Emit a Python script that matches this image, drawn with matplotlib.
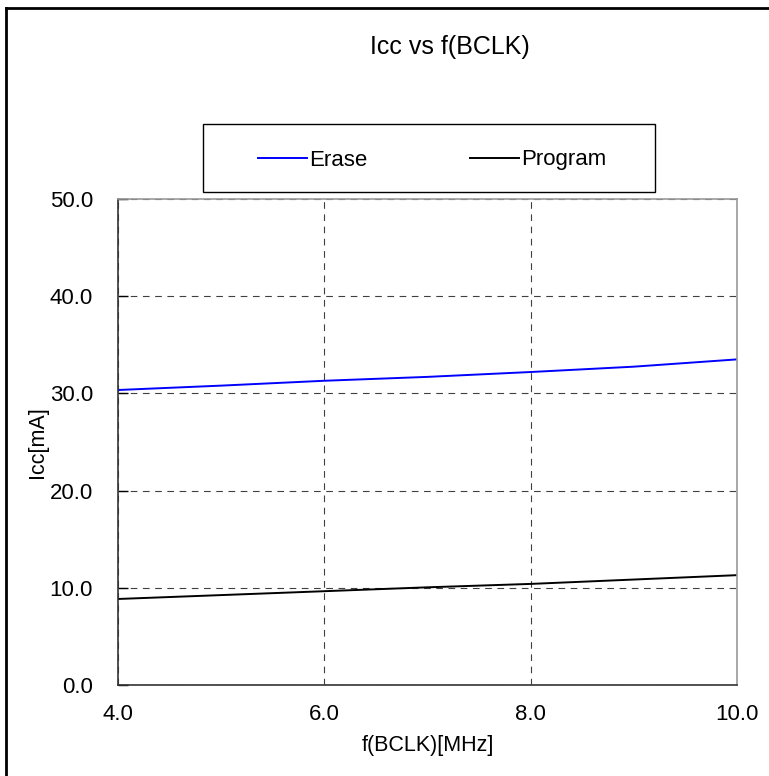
import matplotlib
matplotlib.use("Agg")
import matplotlib.pyplot as plt
from matplotlib.lines import Line2D

plt.rcParams['font.family'] = ['Liberation Sans', 'DejaVu Sans']

freq = [4, 5, 6, 7, 8, 9, 10]
erase = [30.35, 30.8, 31.3, 31.7, 32.2, 32.75, 33.5]
program = [8.85, 9.25, 9.65, 10.05, 10.4, 10.85, 11.3]
xticks = [4.0, 6.0, 8.0, 10.0]
yticks = [0.0, 10.0, 20.0, 30.0, 40.0, 50.0]

W, H = 769, 776
fig = plt.figure(figsize=(W / 100, H / 100), dpi=100)
ax = fig.add_axes([118 / W, 1 - 685 / H, (737 - 118) / W, (685 - 199) / H])

ax.plot(freq, erase, color='#0000ff', lw=1.4, label='Erase')
ax.plot(freq, program, color='black', lw=1.4, label='Program')

ax.set_xlim(4, 10)
ax.set_ylim(0, 50)
ax.set_xticks(xticks)
ax.set_yticks(yticks)
ax.set_xticklabels([f"{v:.1f}" for v in xticks])
ax.set_yticklabels([f"{v:.1f}" for v in yticks])
ax.tick_params(axis='y', direction='in', length=7, width=1, labelsize=16, pad=18)
ax.tick_params(axis='x', direction='in', length=0, labelsize=16, pad=14)
ax.grid(True, color='#404040', linestyle=(0, (6, 5)), linewidth=0.8)
ax.spines['left'].set_color('#333333')
ax.spines['bottom'].set_color('#333333')
ax.spines['top'].set_color('#999999')
ax.spines['right'].set_color('#999999')
for s in ax.spines.values():
    s.set_linewidth(1.2)

ax.set_xlabel('f(BCLK)[MHz]', fontsize=15.5, labelpad=7)
ax.set_ylabel('Icc[mA]', fontsize=15.5, labelpad=1.5)

fig.text(450 / W, 1 - 47 / H, 'Icc vs f(BCLK)', fontsize=18, ha='center', va='center')

# legend frame
fig.patches.append(plt.Rectangle((203 / W, 1 - 192 / H), 452 / W, 68 / H,
                                 transform=fig.transFigure, fill=False,
                                 edgecolor='black', linewidth=1.0))
ax.legend(loc='center left', bbox_to_anchor=(258 / W, 1 - 160 / H),
          bbox_transform=fig.transFigure, ncol=2, frameon=False,
          fontsize=16, handlelength=2.2, handletextpad=0.12, columnspacing=4.6,
          borderpad=0, borderaxespad=0)

# figure border (top and left)
fig.add_artist(Line2D([6 / W, 1], [1 - 8 / H, 1 - 8 / H], transform=fig.transFigure,
                      color='black', lw=2))
fig.add_artist(Line2D([6 / W, 6 / W], [0, 1 - 8 / H], transform=fig.transFigure,
                      color='black', lw=2))

fig.savefig('out.png', dpi=100)
